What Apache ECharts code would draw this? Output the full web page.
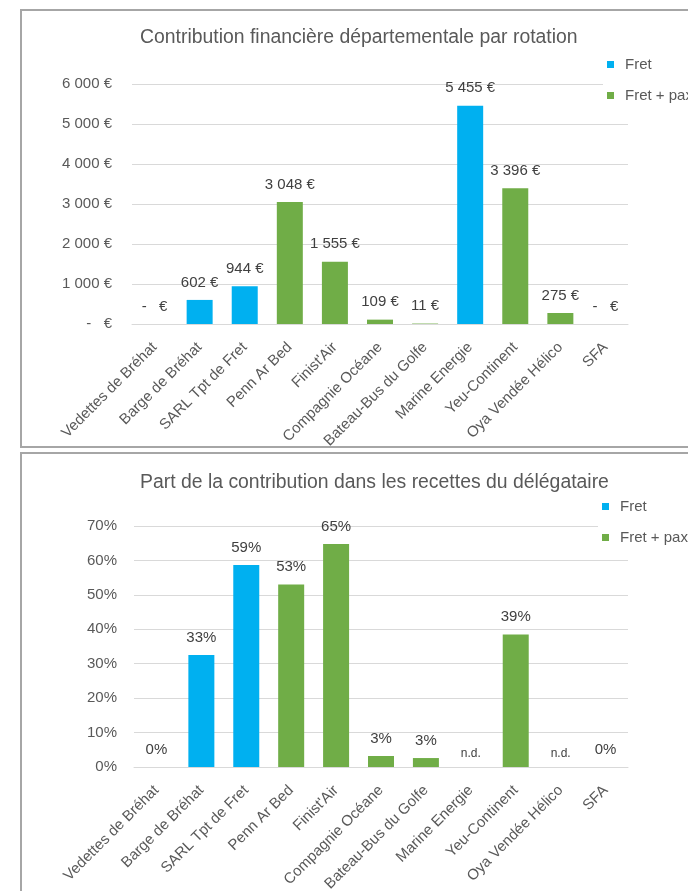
<!DOCTYPE html>
<html>
<head>
<meta charset="utf-8">
<script src="https://cdn.jsdelivr.net/npm/echarts@6/dist/echarts.min.js"></script>
<style>
html,body{margin:0;padding:0;background:#fff;}
#c{width:688px;height:891px;}
</style>
</head>
<body>
<div id="c"></div>
<script>
// ---- data ----
const categories = ["Vedettes de Bréhat","Barge de Bréhat","SARL Tpt de Fret","Penn Ar Bed","Finist'Air","Compagnie Océane","Bateau-Bus du Golfe","Marine Energie","Yeu-Continent","Oya Vendée Hélico","SFA"];
const operatorType = ["pax","fret","fret","pax","pax","pax","pax","fret","pax","pax","pax"];
const contributionEUR = [0, 602, 944, 3048, 1555, 109, 11, 5455, 3396, 275, 0];
const sharePct = [0, 32.5, 58.7, 53, 64.8, 3.2, 2.6, null, 38.5, null, 0]; // null = n.d.
const seriesNames = ["Fret", "Fret + pax"];
const seriesKeys = ["fret", "pax"];
const eurTicks = {min: 0, max: 6000, interval: 1000};
const pctTicks = {min: 0, max: 70, interval: 10};
const titles = ["Contribution financière départementale par rotation", "Part de la contribution dans les recettes du délégataire"];

// ---- styling ----
const FONT = "'Liberation Sans', sans-serif";
const colors = {fret: "#00B0F0", pax: "#70AD47"};
const txt = "#595959";
const lbl = "#404040";
const grid = "#D9D9D9";

function eurFmt(v){
  if (v === 0) return "-   €";
  return String(Math.round(v)).replace(/\B(?=(\d{3})+(?!\d))/g, " ") + " €";
}

function buildSeries(values, gridIndex, fmt){
  return seriesKeys.map((k, si) => ({
    name: seriesNames[si],
    type: "bar",
    stack: "s" + gridIndex,
    xAxisIndex: gridIndex, yAxisIndex: gridIndex,
    barWidth: 26,
    itemStyle: {color: colors[k]},
    label: {show: true, position: "top", distance: 10, color: lbl, fontFamily: FONT, fontSize: 15,
            formatter: p => fmt(p.value)},
    data: values.map((v, i) => {
      if (operatorType[i] !== k) return "-";
      if (v === null) return {value: 0, label: {formatter: "n.d.", fontSize: 12, distance: 7}};
      return v;
    })
  }));
}

const xAxisBase = (gi) => ({
  type: "category", gridIndex: gi, data: categories,
  axisLine: {lineStyle: {color: grid, width: 1}},
  axisTick: {show: false},
  axisLabel: {rotate: 45, color: txt, fontFamily: FONT, fontSize: 15, margin: 21, interval: 0}
});

const chart = echarts.init(document.getElementById("c"), null, {renderer: "canvas"});
chart.setOption({
  animation: false,
  backgroundColor: "#fff",
  textStyle: {fontFamily: FONT},
  graphic: [
    {type: "rect", shape: {x: 21, y: 10, width: 720, height: 437}, style: {fill: "none", stroke: "#A6A6A6", lineWidth: 2}, z: 0},
    {type: "rect", shape: {x: 21, y: 453, width: 720, height: 470}, style: {fill: "none", stroke: "#A6A6A6", lineWidth: 2}, z: 0}
  ],
  title: [
    {text: titles[0], left: 135, top: 23, textStyle: {color: txt, fontWeight: "normal", fontFamily: FONT, fontSize: 19.4}},
    {text: titles[1], left: 135, top: 468, textStyle: {color: txt, fontWeight: "normal", fontFamily: FONT, fontSize: 19.4}}
  ],
  legend: [
    {data: seriesNames, orient: "vertical", left: 603, top: 57, itemWidth: 7, itemHeight: 7, itemGap: 16, icon: "rect",
     padding: [0, 0, 0, 4], backgroundColor: "#fff",
     textStyle: {color: txt, fontFamily: FONT, fontSize: 15, padding: [0, 0, 0, 6]}},
    {data: seriesNames, orient: "vertical", left: 598, top: 499, itemWidth: 7, itemHeight: 7, itemGap: 16, icon: "rect",
     padding: [0, 0, 0, 4], backgroundColor: "#fff",
     textStyle: {color: txt, fontFamily: FONT, fontSize: 15, padding: [0, 0, 0, 6]}}
  ],
  grid: [
    {left: 132, right: 60, top: 84, height: 240, outerBoundsMode: "none", containLabel: false},
    {left: 134, right: 60, top: 526, height: 241, outerBoundsMode: "none", containLabel: false}
  ],
  xAxis: [xAxisBase(0), xAxisBase(1)],
  yAxis: [
    {type: "value", gridIndex: 0, min: eurTicks.min, max: eurTicks.max, interval: eurTicks.interval,
     axisLine: {show: false}, axisTick: {show: false},
     splitLine: {lineStyle: {color: grid}},
     axisLabel: {color: txt, fontFamily: FONT, fontSize: 15, margin: 20, formatter: eurFmt}},
    {type: "value", gridIndex: 1, min: pctTicks.min, max: pctTicks.max, interval: pctTicks.interval,
     axisLine: {show: false}, axisTick: {show: false},
     splitLine: {lineStyle: {color: grid}},
     axisLabel: {color: txt, fontFamily: FONT, fontSize: 15, margin: 17, formatter: v => Math.round(v) + "%"}}
  ],
  series: [
    ...buildSeries(contributionEUR, 0, eurFmt),
    ...buildSeries(sharePct, 1, v => Math.round(v) + "%")
  ]
});
</script>
</body>
</html>
